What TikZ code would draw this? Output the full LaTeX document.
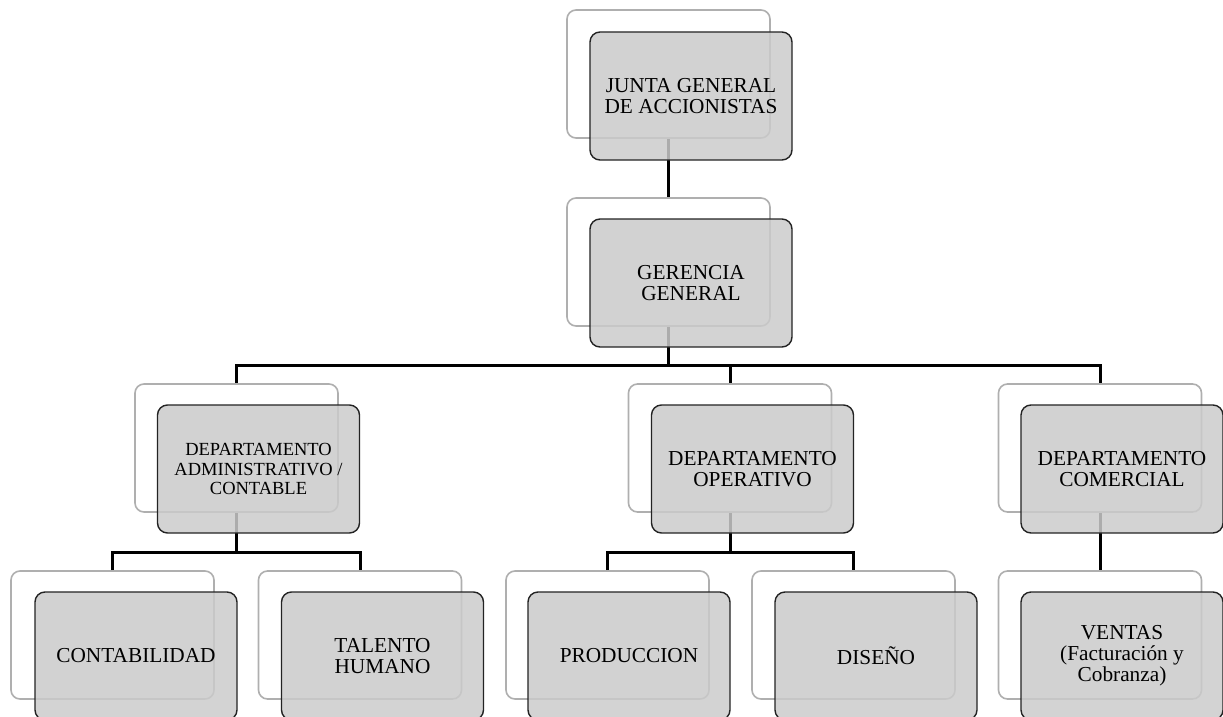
\documentclass[tikz,border=0pt]{standalone}
\usepackage{fontspec}
\setmainfont{Liberation Serif}
\definecolor{frontfill}{RGB}{203,203,203}
\definecolor{frontline}{RGB}{35,35,35}
\definecolor{backline}{RGB}{175,175,175}
\begin{document}
\begin{tikzpicture}[x=1pt,y=-1pt,
  backbox/.style={draw=backline,line width=1.6pt,fill=white,rounded corners=9pt,
    minimum width=203pt,minimum height=128pt,inner sep=0pt},
  frontbox/.style={draw=frontline,line width=1.4pt,fill=frontfill,fill opacity=0.85,
    text opacity=1,rounded corners=10pt,minimum width=202pt,minimum height=128pt,
    inner sep=0pt,align=center,font=\fontsize{21.3}{21}\selectfont},
  smalltext/.style={font=\fontsize{18.5}{19.5}\selectfont},
  conn/.style={draw=black,line width=3pt}]
\useasboundingbox (0,0) rectangle (1223,717);
% back boxes
\node[backbox] (bjunta) at (668.5,74) {};
\node[backbox] (bger) at (668.5,262) {};
\node[backbox] (badm) at (236.5,448) {};
\node[backbox] (bope) at (730,448) {};
\node[backbox] (bcom) at (1100,448) {};
\node[backbox] (bcon) at (112.5,635) {};
\node[backbox] (btal) at (360,635) {};
\node[backbox] (bpro) at (607.5,635) {};
\node[backbox] (bdis) at (853.5,635) {};
\node[backbox] (bven) at (1100,635) {};
% connectors
\coordinate (j1) at (668.5,365);
\coordinate (j2) at (236.5,552);
\coordinate (j3) at (730,552);
\draw[conn] (bjunta.south) -- (bger.north);
\draw[conn] (bger.south) -- (j1);
\draw[conn] (badm.north) |- (j1) -| (bcom.north);
\draw[conn] (j1 -| bope.north) -- (bope.north);
\draw[conn] (badm.south) -- (j2);
\draw[conn] (bcon.north) |- (j2) -| (btal.north);
\draw[conn] (bope.south) -- (j3);
\draw[conn] (bpro.north) |- (j3) -| (bdis.north);
\draw[conn] (bcom.south) -- (bven.north);
% front boxes
\node[frontbox] (fjunta) at (691,96) {JUNTA GENERAL\\DE ACCIONISTAS};
\node[frontbox] (fger) at (691,283) {GERENCIA\\GENERAL};
\node[frontbox,smalltext] (fadm) at (258.5,469) {DEPARTAMENTO\\ADMINISTRATIVO /\\CONTABLE};
\node[frontbox] (fope) at (752.5,469) {DEPARTAMENTO\\OPERATIVO};
\node[frontbox] (fcom) at (1122,469) {DEPARTAMENTO\\COMERCIAL};
\node[frontbox] (fcon) at (136,656) {CONTABILIDAD};
\node[frontbox] (ftal) at (382.5,656) {TALENTO\\HUMANO};
\node[frontbox] (fpro) at (629,656) {PRODUCCION};
\node[frontbox] (fdis) at (876,656) {DISEÑO};
\node[frontbox] (fven) at (1122,656) {VENTAS\\(Facturación y\\Cobranza)};
\end{tikzpicture}
\end{document}
